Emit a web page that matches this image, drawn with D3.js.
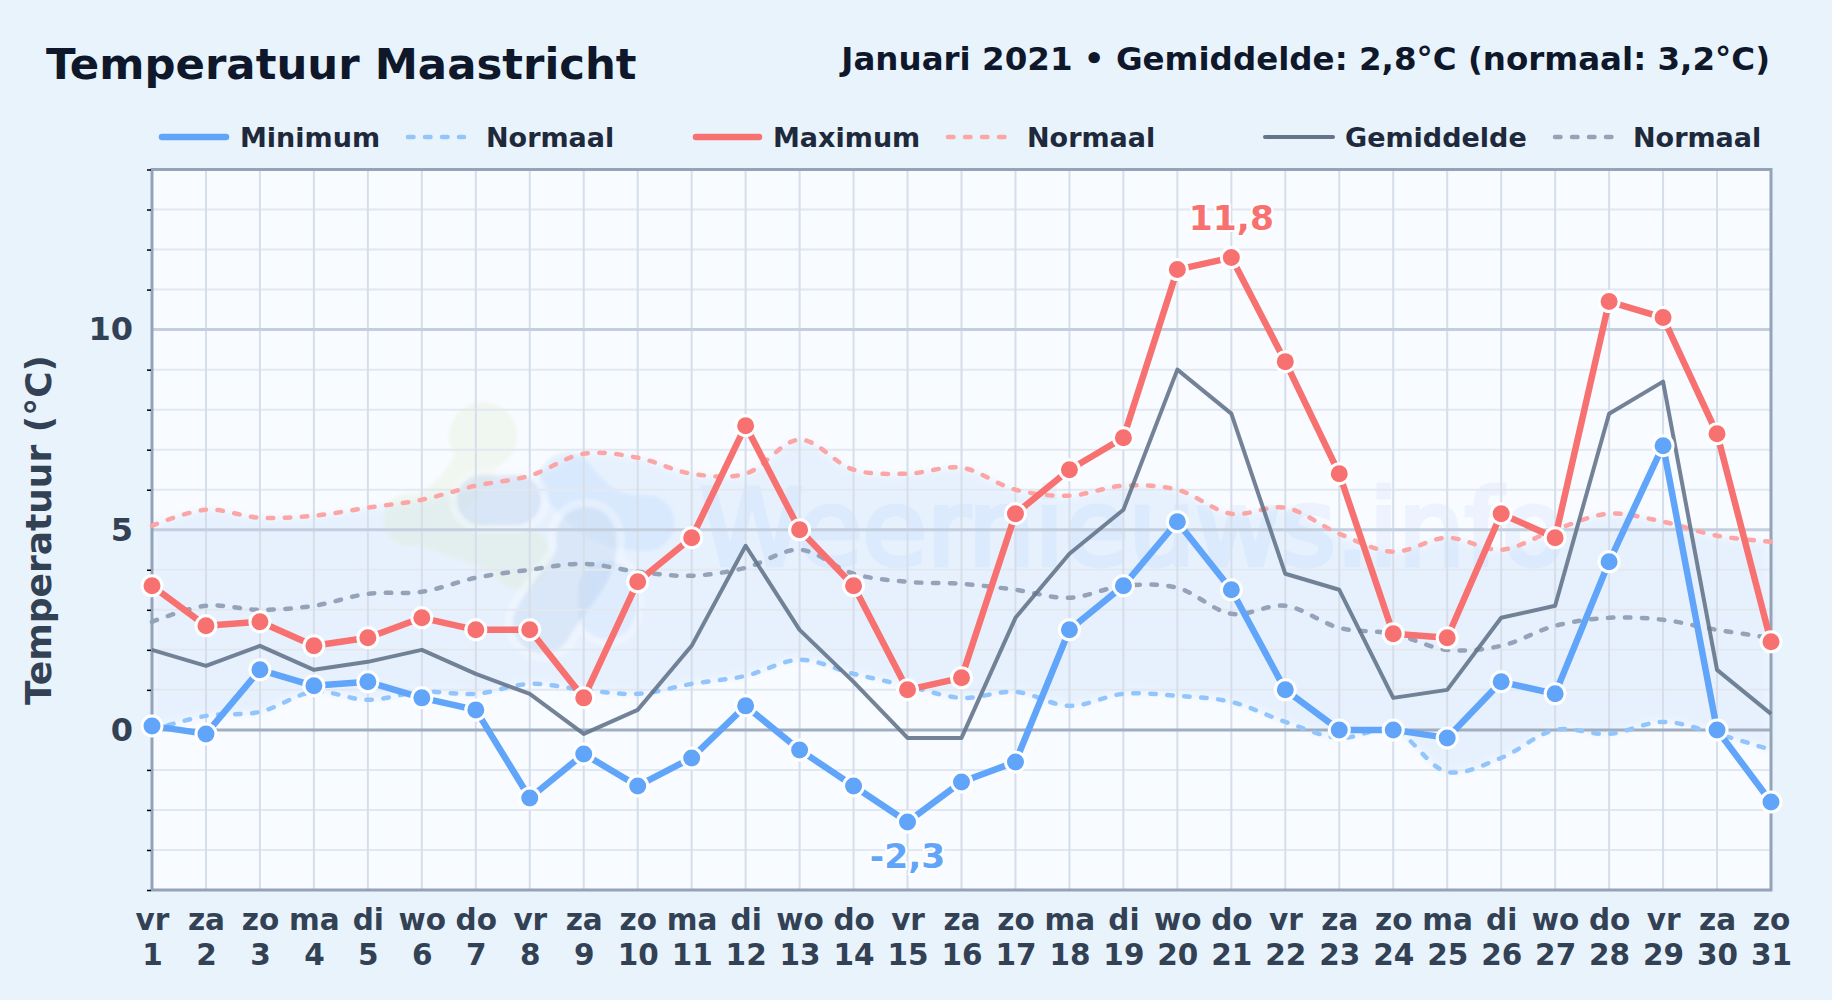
<!DOCTYPE html>
<html>

<head>
    <meta charset="utf-8">
    <style>
        html, body {
            margin: 0;
            padding: 0;
            background: #e8f3fc;
        }

        svg {
            display: block;
        }

        text {
            font-family: "DejaVu Sans", sans-serif;
            font-weight: bold;
        }

        .domain {
            display: none;
        }
    </style>
</head>

<body>
    <svg width="1832" height="1000"></svg>

    <script src="https://d3js.org/d3.v7.min.js"></script>
    <script>
        // Januari 2021, values
        const days = d3.range(1, 32);
        const weekdays = ["vr", "za", "zo", "ma", "di", "wo", "do", "vr", "za", "zo", "ma", "di", "wo", "do", "vr", "za", "zo", "ma", "di", "wo", "do", "vr", "za", "zo", "ma", "di", "wo", "do", "vr", "za", "zo"];

        const tMin = [0.1, -0.1, 1.5, 1.1, 1.2, 0.8, 0.5, -1.7, -0.6, -1.4, -0.7, 0.6, -0.5, -1.4, -2.3, -1.3, -0.8, 2.5, 3.6, 5.2, 3.5, 1.0, 0, 0, -0.2, 1.2, 0.9, 4.2, 7.1, 0, -1.8];
        const tMax = [3.6, 2.6, 2.7, 2.1, 2.3, 2.8, 2.5, 2.5, 0.8, 3.7, 4.8, 7.6, 5.0, 3.6, 1.0, 1.3, 5.4, 6.5, 7.3, 11.5, 11.8, 9.2, 6.4, 2.4, 2.3, 5.4, 4.8, 10.7, 10.3, 7.4, 2.2];
        const tAvg = [2.0, 1.6, 2.1, 1.5, 1.7, 2.0, 1.4, 0.9, -0.1, 0.5, 2.1, 4.6, 2.5, 1.2, -0.2, -0.2, 2.8, 4.4, 5.5, 9.0, 7.9, 3.9, 3.5, 0.8, 1.0, 2.8, 3.1, 7.9, 8.7, 1.5, 0.4];

        const normMin = [0.0, 0.35, 0.45, 0.95, 0.75, 0.95, 0.9, 1.15, 1.0, 0.9, 1.15, 1.35, 1.75, 1.4, 1.1, 0.8, 0.95, 0.6, 0.9, 0.85, 0.7, 0.2, -0.2, 0.0, -1.05, -0.7, 0.0, -0.1, 0.2, -0.1, -0.5];
        const normMax = [5.1, 5.5, 5.3, 5.35, 5.55, 5.75, 6.1, 6.35, 6.9, 6.8, 6.4, 6.4, 7.25, 6.5, 6.4, 6.55, 6.0, 5.85, 6.1, 6.0, 5.4, 5.55, 4.9, 4.45, 4.8, 4.5, 5.0, 5.4, 5.2, 4.85, 4.7];
        const normAvg = [2.7, 3.1, 3.0, 3.1, 3.4, 3.45, 3.8, 4.0, 4.15, 3.95, 3.85, 4.05, 4.5, 3.9, 3.7, 3.65, 3.5, 3.3, 3.6, 3.55, 2.9, 3.1, 2.55, 2.4, 2.0, 2.1, 2.6, 2.8, 2.75, 2.5, 2.3];

        const yMajor = [0, 5, 10];
        const yMinor = d3.range(-4, 15).filter(d => d % 5 !== 0);

        const blue = "#60a5fa", red = "#f87171", slate = "#64748b";
        const dashes = "5.5,11.5";

        let svg = d3.select("svg");

        let plotLeft = 152, plotRight = 1771, plotTop = 169.5, plotBottom = 890;

        let x = d3.scaleLinear().domain([1, 31]).range([plotLeft, plotRight]);
        let y = d3.scaleLinear().domain([-4, 14]).range([plotBottom, plotTop]);

        let defs = svg.append("defs");
        [["soft", 1.5], ["softer", 3]].forEach(f => {
            defs.append("filter").attr("id", f[0])
                .attr("filterUnits", "userSpaceOnUse")
                .attr("x", 0).attr("y", 0).attr("width", 1832).attr("height", 1000)
                .append("feGaussianBlur").attr("stdDeviation", f[1]);
        });

        // page and plot background
        svg.append("rect").attr("width", 1832).attr("height", 1000).attr("fill", "#e8f3fc");
        svg.append("rect")
            .attr("x", plotLeft).attr("y", plotTop)
            .attr("width", plotRight - plotLeft).attr("height", plotBottom - plotTop)
            .attr("fill", "#f8fbff");

        // normal band
        let band = d3.area()
            .x((d, i) => x(days[i]))
            .y0((d, i) => y(normMin[i]))
            .y1((d, i) => y(normMax[i]))
            .curve(d3.curveCatmullRom);
        svg.append("path").datum(days).attr("d", band)
            .attr("fill", blue).attr("opacity", 0.1)
            .attr("filter", "url(#softer)");

        // watermark logo, decoration only
        function blob(color, opacity, paths, circles) {
            let g = svg.append("g").attr("opacity", opacity).attr("filter", "url(#soft)");
            paths.forEach(p => {
                g.append("path").attr("d", p[0]).attr("fill", "none")
                    .attr("stroke", color).attr("stroke-width", p[1])
                    .attr("stroke-linecap", "round").attr("stroke-linejoin", "round");
            });
            circles.forEach(c => {
                g.append("circle").attr("cx", c[0]).attr("cy", c[1]).attr("r", c[2]).attr("fill", color);
            });
        }
        const lobeA = "M482,500 L516,500", lobeB = "M586,537 C592,570 560,590 543,623", lobeC = "M607,590 L607,610";
        blob("#dbeac4", 0.25,
            [["M483,440 C470,490 440,510 410,520 L520,558", 44]],
            [[483, 436, 34], [410, 520, 27], [520, 558, 32]]);
        blob("#93c5fd", 0.16,
            [["M567,480 C590,510 610,525 647,523", 56]], []);
        blob("#f6faff", 0.4, [[lobeC, 72], [lobeB, 76]], []);
        blob("#93c5fd", 0.16, [[lobeC, 58]], []);
        blob("#7fa8dc", 0.16, [[lobeB, 60]], []);
        blob("#f6faff", 0.4, [[lobeA, 66]], []);
        blob("#7fa8dc", 0.18, [[lobeA, 50]], []);

        svg.append("text")
            .attr("x", 700).attr("y", 565)
            .attr("font-size", 105)
            .style("font-weight", "normal")
            .attr("fill", "#3b82f6").attr("stroke", "#3b82f6").attr("stroke-width", 5)
            .attr("opacity", 0.055)
            .text("Weernieuws.info");

        // grid
        let grid = svg.append("g");
        grid.selectAll(".minor").data(yMinor).join("line")
            .attr("x1", plotLeft).attr("x2", plotRight)
            .attr("y1", d => y(d)).attr("y2", d => y(d))
            .attr("stroke", "#e2e8f0").attr("stroke-width", 2);
        grid.selectAll(".vert").data(days).join("line")
            .attr("x1", d => x(d)).attr("x2", d => x(d))
            .attr("y1", plotTop).attr("y2", plotBottom)
            .attr("stroke", "#d6deea").attr("stroke-width", 2);
        yMajor.forEach(d => {
            grid.append("line")
                .attr("x1", plotLeft).attr("x2", plotRight)
                .attr("y1", y(d)).attr("y2", y(d))
                .attr("stroke", d === 0 ? "#a0aec0" : "#c3cfde").attr("stroke-width", 3);
        });

        // spines
        svg.append("rect")
            .attr("x", plotLeft).attr("y", plotTop)
            .attr("width", plotRight - plotLeft).attr("height", plotBottom - plotTop)
            .attr("fill", "none").attr("stroke", "#94a3b8").attr("stroke-width", 3);

        // axes
        let yMajorAxis = d3.axisLeft(y).tickValues(yMajor).tickSize(0).tickPadding(19);
        let gy = svg.append("g").attr("transform", `translate(${plotLeft},0)`).call(yMajorAxis);
        gy.selectAll("text").attr("font-size", 32).attr("fill", "#334155");

        let yMinorAxis = d3.axisLeft(y).tickValues(yMinor).tickSize(4).tickFormat("");
        let gyMinor = svg.append("g").attr("transform", `translate(${plotLeft - 1},0)`).call(yMinorAxis);
        gyMinor.selectAll("line").attr("stroke", "#000").attr("stroke-width", 1.5);

        let xAxis = d3.axisBottom(x).tickValues(days).tickSize(0).tickPadding(0).tickFormat("");
        let gx = svg.append("g").attr("transform", `translate(0,${plotBottom})`).call(xAxis);
        gx.selectAll("text").each(function (d, i) {
            let t = d3.select(this).attr("font-size", 29.5).attr("fill", "#334155").attr("dy", null).attr("y", null);
            t.append("tspan").attr("x", 0).attr("y", 40).text(weekdays[i]);
            t.append("tspan").attr("x", 0).attr("y", 75).text(d);
        });

        svg.append("text")
            .attr("transform", "translate(51,530) rotate(-90)")
            .attr("text-anchor", "middle")
            .attr("font-size", 36)
            .attr("fill", "#334155")
            .text("Temperatuur (°C)");

        // lines
        function drawLine(values, color, width, dash, curve, opacity) {
            let line = d3.line()
                .x((d, i) => x(days[i]))
                .y(d => y(d))
                .curve(curve);
            let p = svg.append("path").datum(values)
                .attr("d", line)
                .attr("fill", "none")
                .attr("stroke", color)
                .attr("stroke-width", width)
                .attr("stroke-linejoin", "round")
                .attr("opacity", opacity);
            if (dash) p.attr("stroke-dasharray", dash).attr("stroke-linecap", "round");
        }

        drawLine(normMin, "#93c5fd", 4.5, dashes, d3.curveCatmullRom, 1);
        drawLine(normMax, "#fca5a5", 4.5, dashes, d3.curveCatmullRom, 1);
        drawLine(normAvg, "#94a3b8", 4.5, dashes, d3.curveCatmullRom, 1);
        drawLine(tAvg, slate, 4, null, d3.curveLinear, 0.9);
        drawLine(tMin, blue, 6.5, null, d3.curveLinear, 1);
        drawLine(tMax, red, 6.5, null, d3.curveLinear, 1);

        function drawDots(values, color) {
            svg.append("g").selectAll("circle").data(values).join("circle")
                .attr("cx", (d, i) => x(days[i]))
                .attr("cy", d => y(d))
                .attr("r", 10)
                .attr("fill", color)
                .attr("stroke", "#fff")
                .attr("stroke-width", 3);
        }
        drawDots(tMin, blue);
        drawDots(tMax, red);

        // extremes
        function extreme(values, value, color, dy) {
            let i = values.indexOf(value);
            svg.append("text")
                .attr("x", x(days[i])).attr("y", y(value) + dy)
                .attr("text-anchor", "middle")
                .attr("font-size", 34.5)
                .attr("fill", color)
                .attr("stroke", "#fff").attr("stroke-width", 4).attr("paint-order", "stroke")
                .text(String(value).replace(".", ","));
        }
        extreme(tMax, d3.max(tMax), red, -27.5);
        extreme(tMin, d3.min(tMin), blue, 46.5);

        // title
        svg.append("text").attr("x", 46).attr("y", 79)
            .attr("font-size", 43.4).attr("fill", "#0f172a")
            .text("Temperatuur Maastricht");
        svg.append("text").attr("x", 1770).attr("y", 70)
            .attr("text-anchor", "end")
            .attr("font-size", 32.5).attr("fill", "#0f172a")
            .text("Januari 2021 • Gemiddelde: 2,8°C (normaal: 3,2°C)");

        // legend
        let legendItems = [
            { label: "Minimum", color: blue, w: 6.5, dash: null, x1: 162, x2: 226, tx: 240 },
            { label: "Normaal", color: "#93c5fd", w: 4.5, dash: dashes, x1: 408, x2: 464, tx: 486 },
            { label: "Maximum", color: red, w: 6.5, dash: null, x1: 696, x2: 759, tx: 773 },
            { label: "Normaal", color: "#fca5a5", w: 4.5, dash: dashes, x1: 948, x2: 1005, tx: 1027 },
            { label: "Gemiddelde", color: slate, w: 4, dash: null, x1: 1265, x2: 1333, tx: 1345 },
            { label: "Normaal", color: "#94a3b8", w: 4.5, dash: dashes, x1: 1555, x2: 1618, tx: 1633 }
        ];
        let legend = svg.append("g");
        legendItems.forEach(d => {
            let l = legend.append("line")
                .attr("x1", d.x1).attr("x2", d.x2)
                .attr("y1", 137).attr("y2", 137)
                .attr("stroke", d.color).attr("stroke-width", d.w)
                .attr("stroke-linecap", "round");
            if (d.dash) l.attr("stroke-dasharray", d.dash);
            legend.append("text")
                .attr("x", d.tx).attr("y", 146.5)
                .attr("font-size", 27).attr("fill", "#1e293b")
                .text(d.label);
        });
    </script>
</body>

</html>
